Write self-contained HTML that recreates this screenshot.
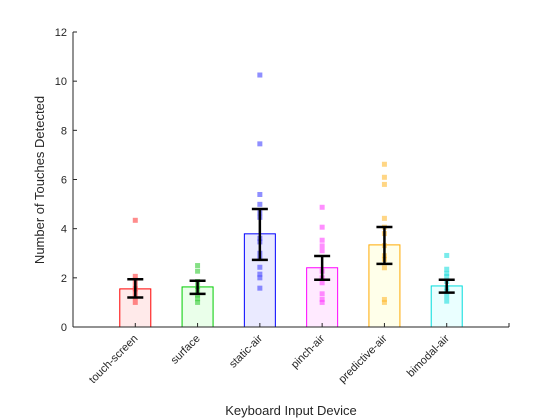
<!DOCTYPE html>
<html><head><meta charset="utf-8"><style>
body{margin:0;background:#fff}
svg{display:block;font-family:"Liberation Sans",sans-serif}
</style></head><body>
<svg id="chart" width="560" height="420" viewBox="0 0 560 420">
</svg>
<script>
const categories=["touch-screen","surface","static-air","pinch-air","predictive-air","bimodal-air"];
const means=[1.55,1.63,3.79,2.41,3.34,1.67];
const errLow=[1.2,1.35,2.73,1.92,2.57,1.4];
const errHigh=[1.94,1.88,4.8,2.89,4.07,1.92];
const points=[
[4.34,2.06,1.9,1.7,1.55,1.4,1.2,1.0],
[2.5,2.27,1.85,1.65,1.5,1.3,1.15,1.0],
[10.25,7.45,5.39,4.99,4.65,4.46,3.61,3.46,3.0,2.8,2.43,2.15,2.0,1.58],
[4.87,4.06,3.53,3.3,3.1,2.27,2.0,1.8,1.35,1.12,1.0],
[6.62,6.09,5.8,4.42,4.06,3.8,3.31,2.9,2.75,2.41,1.12,1.0],
[2.91,2.35,2.18,2.05,1.85,1.6,1.45,1.25,1.05]];
const yTicks=[0,2,4,6,8,10,12];
const colors=["#ff0000","#00cc00","#0000ff","#ff00ff","#ffaa00","#00dddd"];
const fills=["#ffeaea","#eaffea","#eaeaff","#ffeaff","#ffffea","#eaffff"];
const ptColors=["#ff4040","#33cc33","#4444ff","#ff44ff","#ffbb33","#22dddd"];
const NS="http://www.w3.org/2000/svg";
const svg=document.getElementById('chart');
const X0=73,X1=509,Y0=327,Y1=32;
const xs=i=>X0+(X1-X0)*(i+1)/7;
const ys=v=>Y0-(Y0-Y1)*v/12;
function mk(t,a,p){const e=document.createElementNS(NS,t);for(const k in a)e.setAttribute(k,a[k]);(p||svg).appendChild(e);return e;}
categories.forEach((c,i)=>{
  const cx=xs(i),bw=31;
  const b=mk('rect',{x:cx-bw/2,y:ys(means[i]),width:bw,height:Y0-ys(means[i]),fill:fills[i],stroke:colors[i],'stroke-width':1});
  
  
  points[i].forEach(v=>{
    const p=mk('rect',{x:cx-2.5,y:ys(v)-2.5,width:5,height:5,fill:ptColors[i],'fill-opacity':0.6});
    
    
  });
  const g=mk('g',{stroke:'#000','stroke-width':2.5});
  
  
  mk('line',{x1:cx,x2:cx,y1:ys(errLow[i]),y2:ys(errHigh[i])},g);
  mk('line',{x1:cx-8,x2:cx+8,y1:ys(errLow[i]),y2:ys(errLow[i])},g);
  mk('line',{x1:cx-8,x2:cx+8,y1:ys(errHigh[i]),y2:ys(errHigh[i])},g);
  mk('line',{x1:cx,x2:cx,y1:Y0,y2:Y0-4,stroke:'#262626','stroke-width':1});
  const t=mk('text',{x:cx+3,y:Y0+12,'font-size':11,fill:'#262626','text-anchor':'end',transform:`rotate(-45 ${cx+3} ${Y0+12})`});
  t.textContent=c;
  
  
});
yTicks.forEach(v=>{
  mk('line',{x1:X0,x2:X0+4,y1:ys(v),y2:ys(v),stroke:'#262626'});
  const t=mk('text',{x:X0-6,y:ys(v)+4,'font-size':11,fill:'#262626','text-anchor':'end'});
  t.textContent=v;
  
  
});
mk('line',{x1:X0,x2:X0,y1:Y1,y2:Y0,stroke:'#262626'});
mk('line',{x1:X0,x2:X1,y1:Y0,y2:Y0,stroke:'#262626'});
mk('line',{x1:X1,x2:X1,y1:Y0,y2:Y0-4,stroke:'#262626'});
const yt=mk('text',{x:44,y:180,'font-size':13,fill:'#262626','text-anchor':'middle',transform:'rotate(-90 44 180)'});
yt.textContent='Number of Touches Detected';


const xt=mk('text',{x:291,y:415,'font-size':13,fill:'#262626','text-anchor':'middle'});
xt.textContent='Keyboard Input Device';


</script>
</body></html>
